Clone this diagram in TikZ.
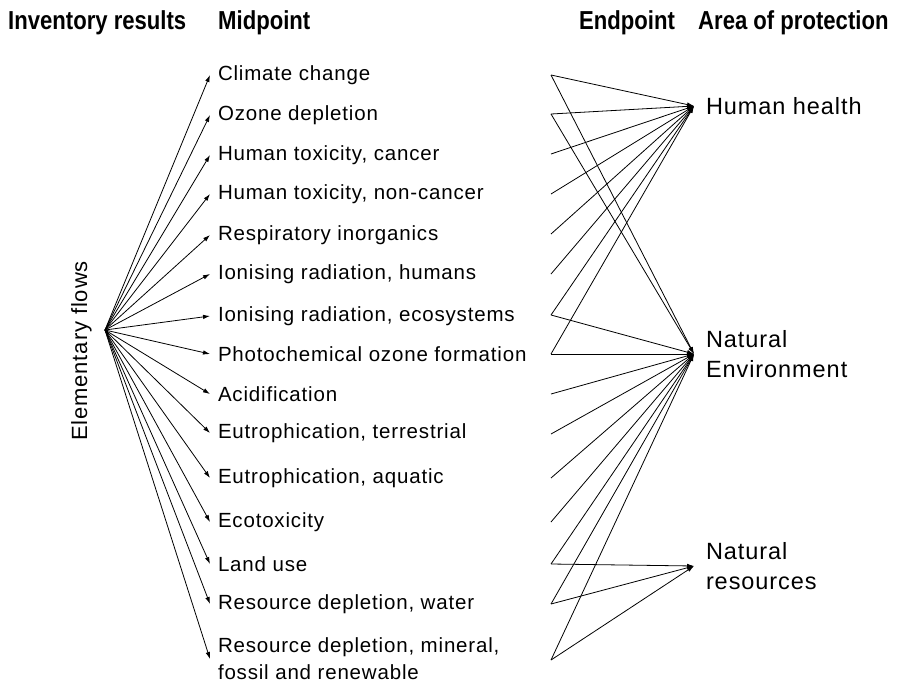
\documentclass[tikz,border=0pt]{standalone}
\usepackage{fontspec}
\setmainfont{Liberation Sans}
\newfontfamily\lblfont[LetterSpace=4]{Liberation Sans}
\newfontfamily\headfont[FakeStretch=0.85]{Liberation Sans}
\usetikzlibrary{positioning, arrows.meta}

\begin{document}
\begin{tikzpicture}[x=1pt, y=-1pt,
    head/.style={font=\headfont\bfseries\fontsize{26}{30}\selectfont, anchor=base west, inner sep=0pt},
    mid/.style={font=\lblfont\fontsize{20.5}{27}\selectfont, anchor=west, align=left,
                inner ysep=0pt, inner xsep=8pt, outer sep=0pt},
    area/.style={font=\lblfont\fontsize{23.5}{30}\selectfont, anchor=west, align=left,
                 inner ysep=0pt, inner xsep=12pt, outer sep=0pt},
    arr/.style={-{Latex[length=7pt, width=4.5pt]}, line width=0.8pt}
  ]
  \useasboundingbox (0,0) rectangle (900,686);

  % column headings
  \node[head] (hinv) at (8,29)   {Inventory results};
  \node[head] (hmid) at (218,29) {Midpoint};
  \node[head] (hend) at (579,29) {Endpoint};
  \node[head] (haop) at (698,29) {Area of protection};

  % inventory
  \node[font=\lblfont\fontsize{22}{26}\selectfont, rotate=90, anchor=base, inner sep=0pt]
       (flows) at (87,351) {Elementary flows};
  \coordinate (hub) at (105,330);

  % midpoint categories
  \node[mid] (m1)  at (210,75)  {Climate change};
  \node[mid] (m2)  at (210,115) {Ozone depletion};
  \node[mid] (m3)  at (210,155) {Human toxicity, cancer};
  \node[mid] (m4)  at (210,194) {Human toxicity, non-cancer};
  \node[mid] (m5)  at (210,235) {Respiratory inorganics};
  \node[mid] (m6)  at (210,274) {Ionising radiation, humans};
  \node[mid] (m7)  at (210,316) {Ionising radiation, ecosystems};
  \node[mid] (m8)  at (210,354) {Photochemical ozone formation};
  \node[mid] (m9)  at (210,394) {Acidification};
  \node[mid] (m10) at (210,433) {Eutrophication, terrestrial};
  \node[mid] (m11) at (210,478) {Eutrophication, aquatic};
  \node[mid] (m12) at (210,522) {Ecotoxicity};
  \node[mid] (m13) at (210,564) {Land use};
  \node[mid] (m14) at (210,604) {Resource depletion, water};
  \node[mid] (m15) at (210,659) {Resource depletion, mineral,\\fossil and renewable};

  % endpoint starts
  \coordinate (e1)  at (551,75);
  \coordinate (e2)  at (551,114);
  \coordinate (e3)  at (551,154);
  \coordinate (e4)  at (551,194);
  \coordinate (e5)  at (551,234);
  \coordinate (e6)  at (551,274);
  \coordinate (e7)  at (551,315);
  \coordinate (e8)  at (551,354);
  \coordinate (e9)  at (551,394);
  \coordinate (e10) at (551,434);
  \coordinate (e11) at (551,478);
  \coordinate (e12) at (551,522);
  \coordinate (e13) at (551,564);
  \coordinate (e14) at (551,604);
  \coordinate (e15) at (551,660);

  % areas of protection
  \node[area] (health) at (694,106) {Human health};
  \node[area] (env)    at (694,354) {Natural\\Environment};
  \node[area] (res)    at (694,566) {Natural\\resources};

  \foreach \i in {1,...,15}
    \draw[arr] (hub) -- (m\i.west);

  \foreach \i in {1,...,8}
    \draw[arr] (e\i) -- (health.west);
  \foreach \i in {1,2,7,8,9,10,11,12,13,14,15}
    \draw[arr] (e\i) -- (env.west);
  \foreach \i in {13,14,15}
    \draw[arr] (e\i) -- (res.west);
\end{tikzpicture}
\end{document}
